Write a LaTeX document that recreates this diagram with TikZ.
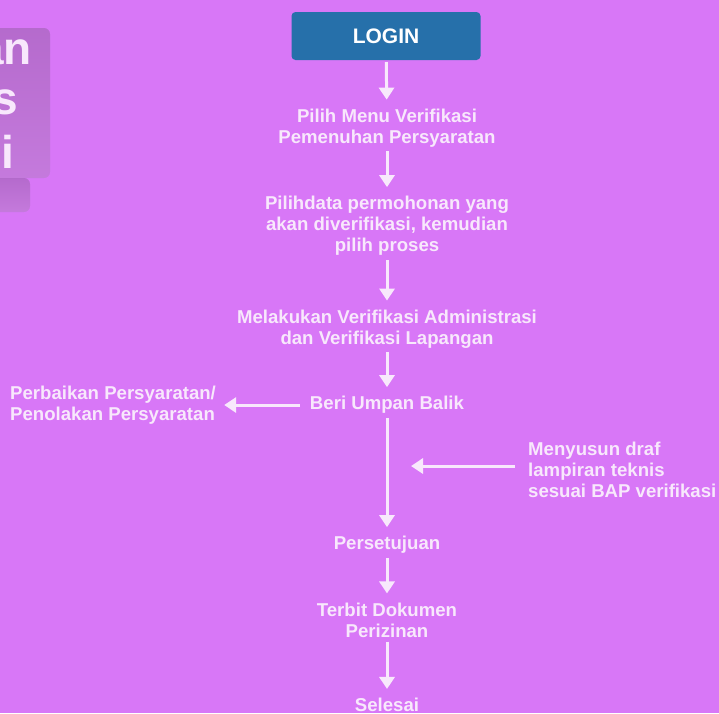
\documentclass[tikz,border=0pt]{standalone}
\usepackage{fontspec}
\setmainfont{Liberation Sans}
\usepackage{xcolor}
\usetikzlibrary{arrows.meta}
\definecolor{bg}{HTML}{D877F7}
\definecolor{shade}{HTML}{B560D2}
\definecolor{loginblue}{HTML}{2670AA}
\definecolor{text}{HTML}{F8E8FC}
\tikzset{
  box/.style={fill=loginblue, rounded corners=4pt, minimum width=189pt, minimum height=48pt, text=white, font=\bfseries\fontsize{21}{24}\selectfont},
  lab/.style={text=text, font=\bfseries\fontsize{18.6}{21}\selectfont, align=center, inner sep=0pt},
  labl/.style={lab, align=left},
  big/.style={text=text, font=\bfseries\fontsize{46}{50}\selectfont, inner sep=0pt, anchor=east},
  flow/.style={draw=text, line width=3pt, -{Triangle[width=15pt,length=12pt]}, shorten <=4pt, shorten >=9pt},
}

\begin{document}
\begin{tikzpicture}[x=1pt,y=-1pt]
  \useasboundingbox (0,0) rectangle (719,713);
  \fill[bg] (0,0) rectangle (719,713);
  \clip (0,0) rectangle (719,713);
  % cut-off title on the left
  \fill[shade, opacity=0.12, rounded corners=6pt] (-10,28) rectangle (50,178);
  \fill[shade, opacity=0.12, rounded corners=6pt] (-10,178) rectangle (30,212);
  \node[big] (t1) at (32,52) {an};
  \node[big] (t2) at (18,102) {s};
  \node[big] (t3) at (14,152) {i};
  % main flow
  \node[box] (login) at (386,36) {LOGIN};
  \node[lab] (menu) at (387,128) {Pilih Menu Verifikasi\\Pemenuhan Persyaratan};
  \node[lab] (pilih) at (387,226) {Pilihdata permohonan yang\\akan diverifikasi, kemudian\\pilih proses};
  \node[lab] (verif) at (387,329) {Melakukan Verifikasi Administrasi\\dan Verifikasi Lapangan};
  \node[lab] (umpan) at (387,405) {Beri Umpan Balik};
  \node[labl, anchor=west] (tolak) at (10,405) {Perbaikan Persyaratan/\\Penolakan Persyaratan};
  \node[labl, anchor=west] (draf) at (528,470) {Menyusun draf\\lampiran teknis\\sesuai BAP verifikasi};
  \coordinate (masuk) at (411,466);
  \node[lab] (setuju) at (387,545) {Persetujuan};
  \node[lab] (terbit) at (387,620) {Terbit Dokumen\\Perizinan};
  \node[lab] (selesai) at (387,705) {Selesai};
  \draw[flow, shorten <=2pt] (login) -- (menu);
  \foreach \a/\b in {menu/pilih,pilih/verif,verif/umpan,umpan/setuju,setuju/terbit,terbit/selesai}
    \draw[flow] (\a) -- (\b);
  \draw[flow, shorten <=10pt, shorten >=8pt] (umpan) -- (tolak);
  \draw[flow, shorten <=13pt, shorten >=0pt] (draf.west |- masuk) -- (masuk);
\end{tikzpicture}
\end{document}
